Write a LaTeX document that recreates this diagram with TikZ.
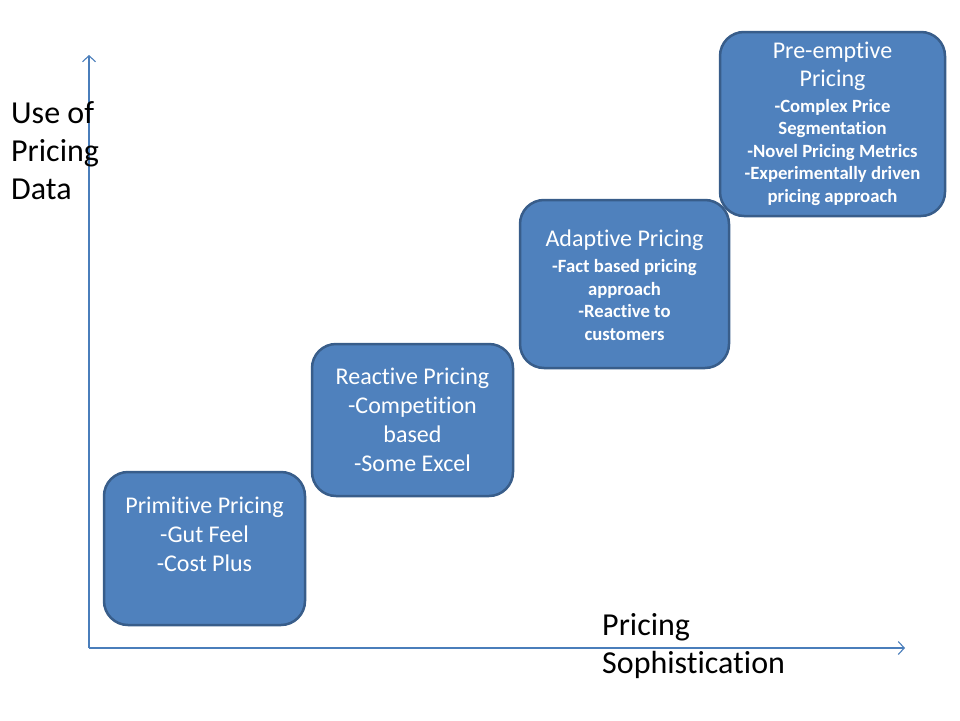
\documentclass[tikz,border=0pt]{standalone}
\usepackage{fontspec}
\setmainfont{Carlito}[Ligatures=NoCommon, Contextuals=NoAlternate]
\usepackage{xcolor}
\usetikzlibrary{arrows.meta, positioning, calc}
\definecolor{stagefill}{HTML}{4F81BD}
\definecolor{stageedge}{HTML}{385D8A}
\definecolor{axisblue}{HTML}{4A7EBB}

\begin{document}
\begin{tikzpicture}[x=1pt, y=-1pt]
	% Define custom styles to make the code cleaner and more reusable.
	\tikzset{
		stage/.style={draw=stageedge, fill=stagefill, line width=2.5pt, rounded corners=24pt, inner sep=0pt},
		stagetext/.style={text=white, align=center, inner sep=0pt, font=\fontsize{24}{29}\selectfont},
		smalltext/.style={text=white, align=center, inner sep=0pt, font=\fontsize{18.7}{22.6}\selectfont\bfseries},
		axislabel/.style={align=left, anchor=west, inner sep=0pt, font=\fontsize{32}{38}\selectfont},
		axisline/.style={draw=axisblue, line width=1.1pt, -{Straight Barb[length=6pt, width=13pt, line width=1.1pt]}}
	}
	\useasboundingbox (0,0) rectangle (960,720);
	
	% === AXES ===
	\coordinate (origin) at (89,648);
	\coordinate (ytip) at (89,55);
	\coordinate (xtip) at (905,648);
	\draw[axisline] (origin) -- (ytip);
	\draw[axisline] (origin) -- (xtip);
	
	\node[axislabel] (ylabel) at (11,151) {Use of\\Pricing\\Data};
	\node[axislabel] (xlabel) at (602,646) {Pricing\\Sophistication};
	
	% === STAGES ===
	\node[stage, minimum width=201pt, minimum height=153pt] (primitive) at (204.5,548.5) {};
	\node[stagetext] (primitivetxt) at ($(primitive.center)+(0,-14)$) {Primitive Pricing\\-Gut Feel\\-Cost Plus};
	
	\node[stage, minimum width=201pt, minimum height=152pt] (reactive) at (412.5,420) {};
	\node[stagetext] (reactivetxt) at (reactive.center) {Reactive Pricing\\-Competition\\based\\-Some Excel};
	
	\node[stage, minimum width=209pt, minimum height=168pt] (adaptive) at (624.5,284) {};
	\node[smalltext] (adaptivetxt) at ($(adaptive.center)+(0,1)$) {{\fontsize{24}{29}\selectfont\mdseries Adaptive Pricing}\\[3.5pt]-Fact based pricing\\approach\\-Reactive to\\customers};
	
	\node[stage, minimum width=225pt, minimum height=184pt] (preemptive) at (832.5,124) {};
	\node[smalltext] (preemptivetxt) at (preemptive.center) {{\fontsize{24}{29}\selectfont\mdseries Pre-emptive}\\[5.5pt]{\fontsize{24}{29}\selectfont\mdseries Pricing}\\[2.5pt]-Complex Price\\Segmentation\\-Novel Pricing Metrics\\-Experimentally driven\\pricing approach};
\end{tikzpicture}
\end{document}
